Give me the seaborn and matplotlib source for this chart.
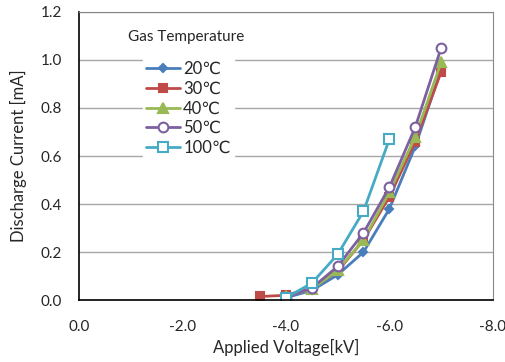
import matplotlib
matplotlib.use("Agg")
import matplotlib.pyplot as plt
import seaborn as sns
import pandas as pd

# data
voltage = [-3.5, -4.0, -4.5, -5.0, -5.5, -6.0, -6.5, -7.0]
cur_20 = [None, 0.01, 0.04, 0.105, 0.20, 0.38, 0.64, 0.96]
cur_30 = [0.015, 0.02, 0.05, 0.12, 0.25, 0.43, 0.66, 0.95]
cur_40 = [None, 0.015, 0.045, 0.125, 0.25, 0.45, 0.68, 0.99]
cur_50 = [None, 0.01, 0.05, 0.14, 0.28, 0.47, 0.72, 1.05]
cur_100 = [None, 0.01, 0.07, 0.19, 0.37, 0.67, None, None]

labels = ["20℃", "30℃", "40℃", "50℃", "100℃"]
series = [cur_20, cur_30, cur_40, cur_50, cur_100]
colors = ["#4A7EBB", "#BE4B48", "#98B954", "#7D60A0", "#46AAC5"]
markers = ["D", "s", "^", "o", "s"]
msizes = [4.5, 5.5, 6.5, 7, 7]
faces = [None, None, None, "white", "white"]

sns.set_style("white")
plt.rcParams["font.family"] = ["Lato", "DejaVu Sans"]

fig = plt.figure(figsize=(5.06, 3.62), dpi=100)
ax = fig.add_axes([0.156, 0.171, 0.818, 0.796])

for lab, vals, c, m, ms, fc in zip(labels, series, colors, markers, msizes, faces):
    df = pd.DataFrame({"v": voltage, "i": vals}).dropna()
    sns.lineplot(data=df, x="v", y="i", ax=ax, color=c, marker=m, markersize=ms,
                 markerfacecolor=fc if fc else c, markeredgecolor=c,
                 markeredgewidth=1.5, linewidth=2, label=lab, sort=False)

ax.set_xlim(0, -8)
ax.set_ylim(0, 1.2)
ax.set_xticks([0, -2, -4, -6, -8])
ax.set_xticklabels(["0.0", "-2.0", "-4.0", "-6.0", "-8.0"])
ax.set_xticks([-1, -3, -5, -7], minor=True)
ax.set_yticks([0, 0.2, 0.4, 0.6, 0.8, 1.0, 1.2])
ax.set_yticklabels(["0.0", "0.2", "0.4", "0.6", "0.8", "1.0", "1.2"])
ax.tick_params(axis="x", which="both", direction="in", length=5, width=1,
               color="black", labelsize=11, pad=14)
ax.tick_params(axis="y", length=0, labelsize=11, pad=12)
ax.yaxis.grid(True, color="#A6A6A6", linewidth=1)
ax.set_axisbelow(True)

for s in ["left", "bottom"]:
    ax.spines[s].set_color("black")
    ax.spines[s].set_linewidth(1.2)
ax.spines["top"].set_color("#888888")
ax.spines["right"].set_color("#888888")

ax.set_xlabel("Applied Voltage[kV]", fontsize=12, labelpad=4)
ax.set_ylabel("Discharge Current [mA]", fontsize=12, labelpad=10)

ax.text(0.118, 0.9, "Gas Temperature", transform=ax.transAxes, fontsize=11)
leg = ax.legend(loc="upper left", bbox_to_anchor=(0.135, 0.87), frameon=True,
                fancybox=False, edgecolor="white", framealpha=1, fontsize=12,
                handlelength=2.0, handletextpad=0.2, labelspacing=0.22,
                borderpad=0.2)

fig.savefig("out.png", dpi=100)
